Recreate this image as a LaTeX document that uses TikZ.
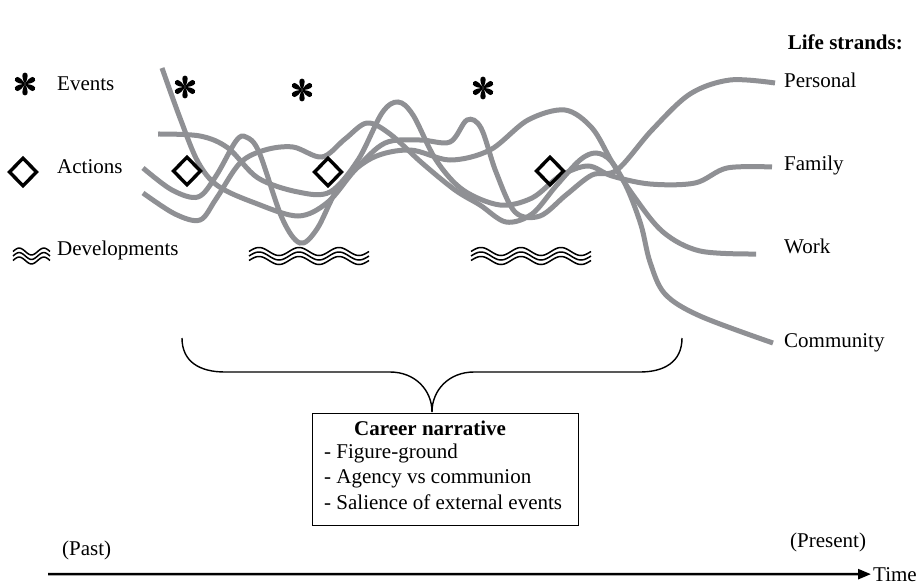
\documentclass[tikz,border=0pt]{standalone}
\usepackage{fontspec}
\setmainfont{Liberation Serif}
\usetikzlibrary{arrows.meta}
\definecolor{strandgray}{RGB}{143,144,148}
\begin{document}
\begin{tikzpicture}[x=1pt,y=-1pt,
  lbl/.style={font=\fontsize{21}{25}\selectfont, inner sep=0pt, anchor=base west},
  strand/.style={draw=strandgray, line width=5pt},
  ink/.style={line width=1.4pt},
  ast/.pic={\foreach \a in {90,30,-30,-90,-150,150}{
      \fill[rotate=\a] (0,0) .. controls (3,1.8) and (8,3.4) .. (10.3,2.2)
        .. controls (11.8,1.1) and (11.8,-1.1) .. (10.3,-2.2)
        .. controls (8,-3.4) and (3,-1.8) .. (0,0);}},
  diam/.pic={\draw[line width=3.4pt, line join=miter]
      (0,-13.8) -- (13.5,0) -- (0,13.8) -- (-13.5,0) -- cycle;},
  bigwaves/.pic={\foreach \dy in {-4.5,0,4.5}
      \draw[line width=1.5pt] plot[domain=0:1080, samples=73, smooth] ({\x/9}, {\dy-4*sin(\x)});},
  smallwaves/.pic={\foreach \dy in {-4.5,0,4.5}
      \draw[line width=1.5pt] plot[domain=0:540, samples=37, smooth] ({\x/14.6}, {\dy-3.4*sin(\x)});}
]
\useasboundingbox (0,0) rectangle (923,586);

% legend
\pic at (25,84) {ast};
\node[lbl] (evl) at (57,90) {Events};
\pic at (23,172) {diam};
\node[lbl] (acl) at (57,173) {Actions};
\pic at (13,256) {smallwaves};
\node[lbl] (dvl) at (57,255) {Developments};

% strand labels
\node[lbl, anchor=base east, font=\fontsize{21}{25}\selectfont\bfseries] (lsl) at (903,49) {Life strands:};
\node[lbl] (personal) at (784,87) {Personal};
\node[lbl] (family) at (784,170) {Family};
\node[lbl] (work) at (784,253) {Work};
\node[lbl] (community) at (784,347) {Community};
\coordinate (pEnd) at (775,83);
\coordinate (fEnd) at (772,167);
\coordinate (wEnd) at (756,254);
\coordinate (cEnd) at (773,343);

% life strands
\draw[strand] plot[smooth, tension=0.55] coordinates {(162,68) (180,118) (198,162) (218,186) (255,203) (298,216) (328,202) (355,170) (385,143) (420,140) (450,142) (467,120) (481,128) (496,172) (515,212) (540,216) (566,195) (592,175) (617,170) (652,130) (690,94) (730,80) (pEnd)};
\draw[strand] plot[smooth, tension=0.55] coordinates {(158,134) (200,136) (228,148) (258,178) (298,192) (330,192) (358,160) (382,113) (398,102) (413,115) (436,160) (463,190) (500,205) (532,198) (560,176) (588,166) (612,176) (650,184) (695,183) (727,168) (fEnd)};
\draw[strand] plot[smooth, tension=0.55] coordinates {(143,168) (172,190) (198,197) (216,176) (236,141) (246,137) (259,152) (282,218) (300,243) (317,229) (340,185) (372,158) (410,150) (450,160) (490,150) (528,120) (565,110) (592,128) (612,162) (633,195) (663,232) (700,251) (wEnd)};
\draw[strand] plot[smooth, tension=0.55] coordinates {(143,193) (175,214) (200,220) (216,199) (240,163) (265,150) (293,147) (322,157) (345,139) (367,123) (390,134) (422,163) (455,190) (480,205) (506,222) (532,214) (556,186) (580,160) (596,153) (611,161) (627,188) (641,225) (650,262) (665,294) (700,316) (cEnd)};

% events, actions, developments along the strands
\pic at (185,87) {ast};
\pic at (302,90) {ast};
\pic at (483,88) {ast};
\pic at (187,171) {diam};
\pic at (328,172) {diam};
\pic at (550,171) {diam};
\pic at (249,256) {bigwaves};
\pic at (471,256) {bigwaves};

% brace
\coordinate (braceL) at (182,338);
\coordinate (braceR) at (682,338);
\coordinate (braceTip) at (432,412);
\draw[ink] (braceL) .. controls (182,362) and (200,372) .. (225,372) -- (390,372)
  .. controls (415,372) and (432,390) .. (braceTip);
\draw[ink] (braceR) .. controls (682,362) and (664,372) .. (640,372) -- (474,372)
  .. controls (449,372) and (432,390) .. (braceTip);

% career narrative box
\node[draw, line width=1.3pt, minimum width=266pt, minimum height=112pt, inner sep=0pt, anchor=north west] (box) at (312,413) {};
\node[lbl, font=\fontsize{21}{25}\selectfont\bfseries] (bt) at (354,435) {Career narrative};
\node[lbl] (b1) at (324,458) {- Figure-ground};
\node[lbl] (b2) at (324,483) {- Agency vs communion};
\node[lbl] (b3) at (324,509) {- Salience of external events};

% time axis
\node[lbl] (past) at (62,555) {(Past)};
\node[lbl] (present) at (790,547) {(Present)};
\node[lbl] (time) at (873,581) {Time};
\coordinate (t0) at (48,574);
\draw[line width=2.5pt, -{Triangle[length=13pt, width=10pt]}] (t0) -- ([xshift=-2pt]time.west);
\end{tikzpicture}
\end{document}
